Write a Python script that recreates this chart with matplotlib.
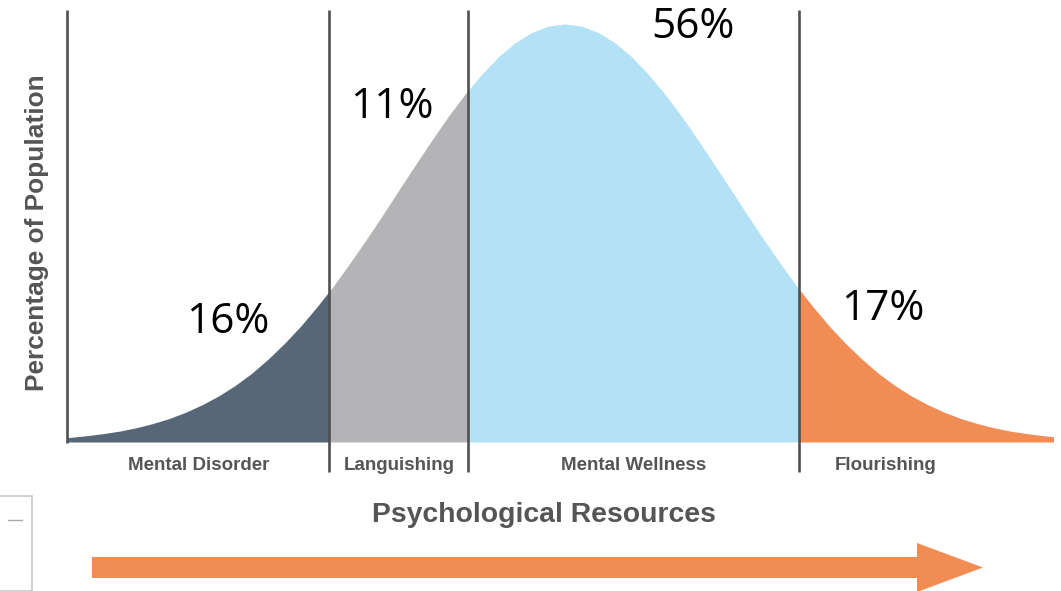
import matplotlib
matplotlib.use("Agg")
import matplotlib.pyplot as plt
from matplotlib.patches import Rectangle, Polygon

# ---------------- data ----------------
segments = ["Mental Disorder", "Languishing", "Mental Wellness", "Flourishing"]
shares = [16, 11, 56, 17]
# segment boundaries on the "psychological resources" axis (SD units)
boundaries = [-3.02, -1.43, -0.59, 1.42, 2.96]
# bell curve (height as % of the peak)
curve_x = [-3.1, -3.0, -2.9, -2.8, -2.7, -2.6, -2.5, -2.4, -2.3, -2.2, -2.1,
           -2.0, -1.9, -1.8, -1.7, -1.6, -1.5, -1.4, -1.3, -1.2, -1.1,
           -1.0, -0.9, -0.8, -0.7, -0.6, -0.5, -0.4, -0.3, -0.2, -0.1,
           0.0, 0.1, 0.2, 0.3, 0.4, 0.5, 0.6, 0.7, 0.8, 0.9,
           1.0, 1.1, 1.2, 1.3, 1.4, 1.5, 1.6, 1.7, 1.8, 1.9,
           2.0, 2.1, 2.2, 2.3, 2.4, 2.5, 2.6, 2.7, 2.8, 2.9, 3.0]
curve_h = [0.8, 1.1, 1.5, 2.0, 2.6, 3.4, 4.4, 5.6, 7.1, 8.9, 11.0,
           13.5, 16.4, 19.8, 23.6, 27.8, 32.5, 37.5, 43.0, 48.7, 54.6,
           60.7, 66.7, 72.6, 78.3, 83.5, 88.2, 92.3, 95.6, 98.0, 99.5,
           100.0, 99.5, 98.0, 95.6, 92.3, 88.2, 83.5, 78.3, 72.6, 66.7,
           60.7, 54.6, 48.7, 43.0, 37.5, 32.5, 27.8, 23.6, 19.8, 16.4,
           13.5, 11.0, 8.9, 7.1, 5.6, 4.4, 3.4, 2.6, 2.0, 1.5, 1.1]
y_title = "Percentage of Population"
x_title = "Psychological Resources"

# ---------------- style / layout ----------------
W, H = 1061, 591
seg_colors = ["#586778", "#B4B4B7", "#B3E2F6", "#F28C55"]
line_color = "#505050"
label_color = "#555555"
arrow_color = "#F28C55"
CX, SX = 565.0, 165.0     # pixel centre / pixels per SD
BASE, SY = 442.0, 4.18    # baseline pixel row / pixels per height unit


def px2x(px):
    return (px - CX) / SX


def px2y(py):
    return (BASE - py) / SY


fig = plt.figure(figsize=(W / 100, H / 100), dpi=100)
ax = fig.add_axes([0, 0, 1, 1])
ax.set_xlim(px2x(0), px2x(W))
ax.set_ylim(px2y(H), px2y(0))
ax.axis("off")

# filled segments of the curve
for i, col in enumerate(seg_colors):
    poly = ax.fill_between(curve_x, 0, curve_h, color=col, lw=0)
    clip = Rectangle((boundaries[i], -5), boundaries[i + 1] - boundaries[i], 120,
                     transform=ax.transData)
    poly.set_clip_path(clip)

# divider lines
ax.vlines(boundaries[0], px2y(443), px2y(10), color=line_color, lw=1.9)
ax.vlines(boundaries[1:4], px2y(472), px2y(10), color=line_color, lw=1.9)

# segment labels
seg_label_px = [199, 399, 634, 886]
for name, px in zip(segments, seg_label_px):
    ax.text(px2x(px), px2y(470), name, ha="center", va="baseline",
            fontsize=13.5, fontweight="bold", color=label_color,
            family="Liberation Sans")

# percentage labels (x centre, baseline row)
share_px = [(228, 333), (392, 118), (693, 38), (883, 320)]
for s, (px, py) in zip(shares, share_px):
    ax.text(px2x(px), px2y(py), f"{s}%", ha="center", va="baseline",
            fontsize=30.5, color="black", family="Open Sans")

# axis titles
ax.text(px2x(544), px2y(522), x_title, ha="center", va="baseline",
        fontsize=20.4, fontweight="bold", color=label_color,
        family="Liberation Sans")
ax.text(px2x(37), px2y(233), y_title, ha="center", va="center",
        rotation=90, fontsize=18.9, fontweight="bold", color=label_color,
        family="Liberation Sans")

# big arrow
def fp(px, py):
    return (px / W, 1 - py / H)

arrow_pts = [fp(92, 557), fp(917, 557), fp(917, 543), fp(983, 567.5),
             fp(917, 592), fp(917, 578), fp(92, 578)]
fig.patches.append(Polygon(arrow_pts, closed=True, transform=fig.transFigure,
                           facecolor=arrow_color, edgecolor="none"))

# small box artefact at the lower left
fig.patches.append(Rectangle(fp(-2, 591), 34 / W, 95 / H, transform=fig.transFigure,
                             facecolor="white", edgecolor="#C8C8C8", lw=1.2))
fig.lines.append(plt.Line2D([8 / W, 22 / W], [1 - 520 / H, 1 - 520 / H],
                            transform=fig.transFigure, color="#AAAAAA", lw=1))

fig.savefig("out.png", dpi=100)
